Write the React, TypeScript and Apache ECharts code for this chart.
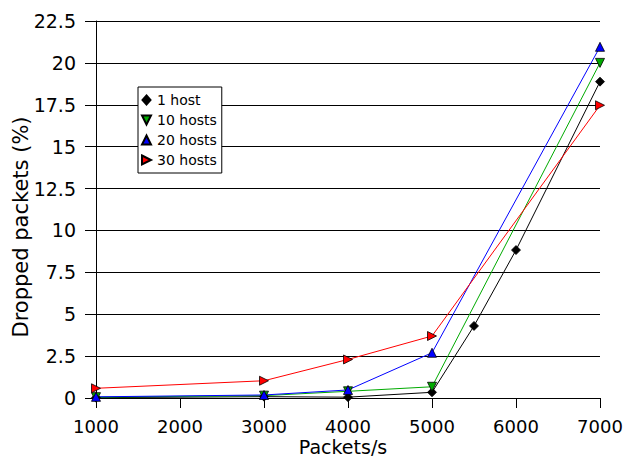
import React, { useEffect, useRef } from "react";
import * as echarts from "echarts";

const xValues = [1000, 3000, 4000, 5000, 5500, 6000, 7000];
const x4 = [1000, 3000, 4000, 5000, 7000];
const host1 = [0.02, 0.08, 0.05, 0.34, 4.3, 8.83, 18.88];
const hosts10 = [0.05, 0.14, 0.4, 0.67, 20.0];
const hosts20 = [0.07, 0.18, 0.48, 2.7, 20.96];
const hosts30 = [0.58, 1.03, 2.3, 3.7, 17.47];
const yTicks = ["0", "2.5", "5", "7.5", "10", "12.5", "15", "17.5", "20", "22.5"];
const xTitle = "Packets/s";
const yTitle = "Dropped packets (%)";

const DIAMOND = "path://M4,0 L8,4.5 L4,9 L0,4.5 Z";
const DOWN = "path://M0,0 L10,0 L5,10 Z";
const RIGHT = "path://M0,0 L10,5 L0,10 Z";
const UP = "path://M5,0 L10,10 L0,10 Z";

export default function App() {
  const ref = useRef<HTMLDivElement>(null);
  useEffect(() => {
    const chart = echarts.init(ref.current!, null, { renderer: "svg" });
    const font = "DejaVu Sans";
    const mk = (name: string, xs: number[], ys: number[], color: string, symbol: string, size: number, symFill: string) => ({
      name,
      type: "line",
      data: xs.map((x, i) => [x, ys[i]]),
      symbol,
      symbolSize: size,
      showAllSymbol: true,
      lineStyle: { color, width: 1 },
      itemStyle: { color: symFill, borderColor: "#000", borderWidth: 0.8 },
    });
    chart.setOption({
      animation: false,
      textStyle: { fontFamily: font },
      grid: { left: 96, right: 26, top: 21, bottom: 60 },
      xAxis: {
        type: "value",
        min: 1000,
        max: 7000,
        interval: 1000,
        axisLine: { show: true, lineStyle: { color: "#000", width: 1 } },
        axisTick: { show: true, length: 10, lineStyle: { color: "#000" } },
        axisLabel: { fontSize: 18, color: "#000", margin: 19, fontFamily: font, formatter: (v: number) => String(v) },
        splitLine: { show: false },
      },
      yAxis: {
        type: "value",
        min: 0,
        max: 22.5,
        interval: 2.5,
        axisLine: { show: true, lineStyle: { color: "#000", width: 1 } },
        axisTick: { show: true, length: 11, lineStyle: { color: "#000" } },
        axisLabel: {
          fontSize: 19,
          color: "#000",
          margin: 20,
          fontFamily: font,
          formatter: (v: number) => yTicks[Math.round(v / 2.5)] ?? String(v),
        },
        splitLine: { show: true, lineStyle: { color: "#000", width: 1 } },
      },
      graphic: [
        {
          type: "text",
          x: 343,
          y: 447,
          style: { text: xTitle, fontSize: 19, fontFamily: font, fill: "#000", textAlign: "center", textVerticalAlign: "middle" },
        },
        {
          type: "text",
          x: 21,
          y: 227,
          rotation: Math.PI / 2,
          style: { text: yTitle, fontSize: 21, fontFamily: font, fill: "#000", textAlign: "center", textVerticalAlign: "middle" },
        },
      ],
      legend: {
        orient: "vertical",
        left: 138,
        top: 87,
        backgroundColor: "#fff",
        borderColor: "#000",
        borderWidth: 1,
        borderRadius: 0,
        padding: [6, 5, 6, 3],
        itemGap: 6,
        itemWidth: 11,
        itemHeight: 9,
        symbolKeepAspect: true,
        textStyle: { fontSize: 14, color: "#000", fontFamily: font, lineHeight: 14 },
        data: [
          { name: "1 host", icon: DIAMOND },
          { name: "10 hosts", icon: DOWN },
          { name: "20 hosts", icon: UP },
          { name: "30 hosts", icon: RIGHT },
        ],
      },
      series: [
        mk("1 host", xValues, host1, "#000", DIAMOND, 9, "#000"),
        mk("10 hosts", x4, hosts10, "#00aa00", DOWN, 9, "#00aa00"),
        mk("20 hosts", x4, hosts20, "#0000ff", UP, 9, "#0000ff"),
        mk("30 hosts", x4, hosts30, "#ff0000", RIGHT, 9, "#ff0000"),
      ],
    });
    return () => chart.dispose();
  }, []);
  return <div ref={ref} style={{ width: 626, height: 458, position: "absolute", left: 0, top: 0 }} />;
}
